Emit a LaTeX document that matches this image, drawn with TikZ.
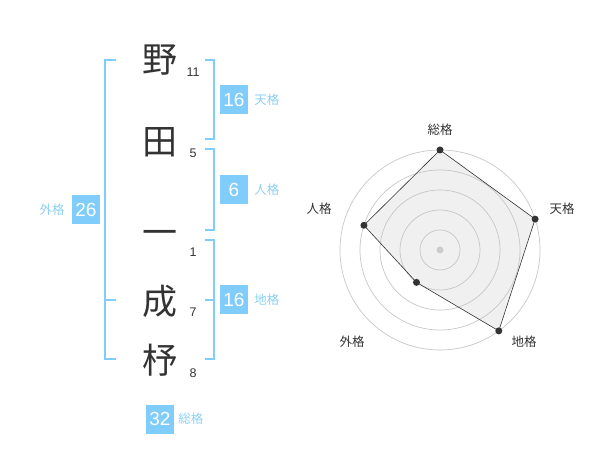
\documentclass[tikz,border=0pt]{standalone}
\usepackage{fontspec}
\setmainfont{Liberation Sans}
\newfontfamily\jpfont{Noto Sans CJK JP}
\usetikzlibrary{positioning}
\definecolor{skyblue}{RGB}{128,204,250}
\definecolor{paleblue}{RGB}{140,208,245}
\definecolor{ink}{RGB}{51,51,51}
\begin{document}
\begin{tikzpicture}[x=1pt, y=-1pt,
  kanji/.style={font=\jpfont\fontsize{35}{35}\selectfont, text=ink, inner sep=0pt},
  strokes/.style={font=\fontsize{12.5}{12.5}\selectfont, text=ink, inner sep=0pt},
  score/.style={fill=skyblue, text=white, font=\fontsize{19}{19}\selectfont, minimum width=28pt, minimum height=29pt, inner sep=0pt},
  kaku/.style={font=\jpfont\fontsize{12.5}{12.5}\selectfont, text=paleblue, inner sep=0pt},
  bracket/.style={draw=skyblue, line width=2pt},
  axis/.style={font=\jpfont\fontsize{12.5}{12.5}\selectfont, text=ink, inner sep=0pt},
  ring/.style={draw=black!22, line width=0.7pt},
  dot/.style={circle, fill=ink, inner sep=0pt, minimum size=7pt}]
\useasboundingbox (0,0) rectangle (600,470);
% name
\node[kanji] (k1) at (160,60) {野};
\node[kanji] (k2) at (160,142) {田};
\node[kanji] (k3) at (160,238) {一};
\node[kanji] (k4) at (160,301) {成};
\node[kanji] (k5) at (160,360) {杼};
\node[strokes] (s1) at (193,72) {11};
\node[strokes] (s2) at (193,153) {5};
\node[strokes] (s3) at (193,252) {1};
\node[strokes] (s4) at (193,312) {7};
\node[strokes] (s5) at (193,373) {8};
% brackets
\coordinate (ten-a) at (205,60); \coordinate (ten-b) at (205,139);
\coordinate (jin-a) at (205,149); \coordinate (jin-b) at (205,230);
\coordinate (chi-a) at (205,240); \coordinate (chi-b) at (205,359); \coordinate (chi-m) at (205,300);
\coordinate (gai-a) at (116,60); \coordinate (gai-b) at (116,359); \coordinate (gai-m) at (116,300);
\draw[bracket] (ten-a) -- ++(9,0) |- (ten-b);
\draw[bracket] (jin-a) -- ++(9,0) |- (jin-b);
\draw[bracket] (chi-a) -- ++(9,0) |- (chi-b);
\draw[bracket] (chi-m) -- ++(9,0);
\draw[bracket] (gai-a) -- ++(-11,0) |- (gai-b);
\draw[bracket] (gai-m) -- ++(-11,0);
% scores
\node[score, label={[kaku, label distance=6pt]right:天格}] (ten) at (234,100) {16};
\node[score, label={[kaku, label distance=6pt]right:人格}] (jin) at (234,190) {6};
\node[score, label={[kaku, label distance=6pt]right:地格}] (chi) at (234,300) {16};
\node[score, label={[kaku, label distance=7pt]left:外格}] (gai) at (86,210) {26};
\node[score, label={[kaku, label distance=4pt]right:総格}] (sou) at (160,419) {32};
% radar
\coordinate (c) at (440,250);
\path (c) ++(90:100pt) coordinate (r-sou);
\path (c) ++(18:100pt) coordinate (r-ten);
\path (c) ++(-54:100pt) coordinate (r-chi);
\path (c) ++(-126:40pt) coordinate (r-gai);
\path (c) ++(162:80pt) coordinate (r-jin);
\fill[black!6] (r-sou) -- (r-ten) -- (r-chi) -- (r-gai) -- (r-jin) -- cycle;
\foreach \r in {20,40,60,80,100}
  \draw[ring] (c) circle[radius=\r pt];
\draw[ink, line width=0.6pt] (r-sou) -- (r-ten) -- (r-chi) -- (r-gai) -- (r-jin) -- cycle;
\fill[black!20] (c) circle[radius=3.5pt];
\foreach \p in {sou,ten,chi,gai,jin}
  \node[dot] (d-\p) at (r-\p) {};
\node[axis] (a-sou) at (440,130) {総格};
\node[axis] (a-ten) at (562,209) {天格};
\node[axis] (a-chi) at (524,342) {地格};
\node[axis] (a-gai) at (352,342) {外格};
\node[axis] (a-jin) at (319,209) {人格};
\end{tikzpicture}
\end{document}
